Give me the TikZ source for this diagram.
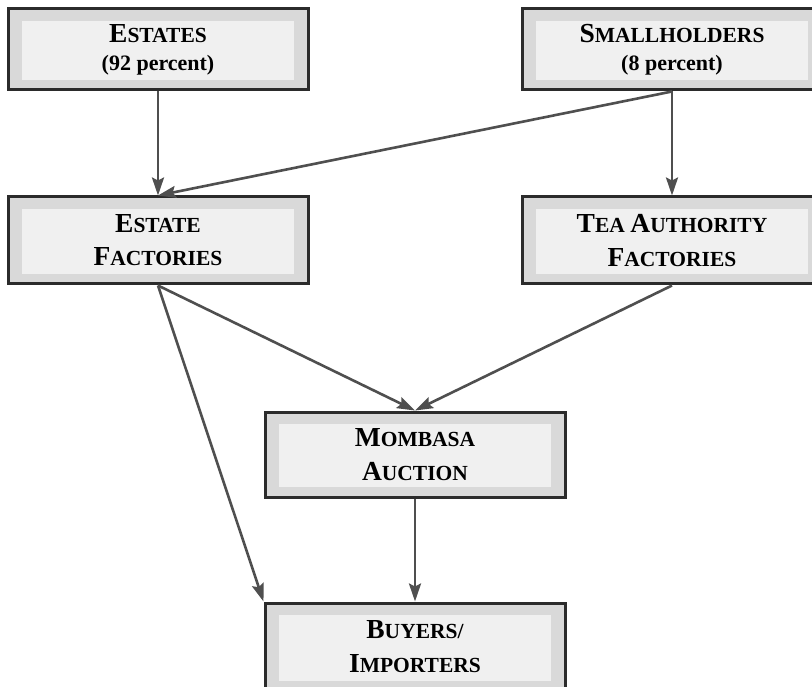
\documentclass[tikz,border=0pt]{standalone}
\usepackage{fontspec}
\setmainfont{Liberation Serif}
\usetikzlibrary{arrows.meta}
\definecolor{outerfill}{HTML}{D9D9D9}
\definecolor{innerfill}{HTML}{F0F0F0}
\definecolor{edgecol}{HTML}{2B2B2B}
\definecolor{arrowcol}{HTML}{4F4F4F}
\newcommand\SCw[2]{{\fontsize{27.5}{29}\selectfont #1}{\fontsize{21.5}{29}\selectfont #2}}
\begin{document}
\begin{tikzpicture}[x=1pt,y=-1pt,
  outerbox/.style={draw=edgecol,line width=3pt,fill=outerfill,
    minimum width=300pt,minimum height=#1,inner sep=0pt,align=center,
    font=\bfseries\fontsize{22}{29}\selectfont,
    path picture={\fill[innerfill]
      ([xshift=14pt,yshift=-12pt]path picture bounding box.north west) rectangle
      ([xshift=-14pt,yshift=10pt]path picture bounding box.south east);}},
  arr/.style={draw=arrowcol,line width=2.6pt,
    -{Stealth[length=18pt,width=12pt,inset=3pt]}}]
\clip (0,0) rectangle (812,687);
\fill[white] (0,0) rectangle (812,687);
\node[outerbox=81pt] (es) at (158,49.5) {\SCw{E}{STATES}\\[-1pt](92 percent)};
\node[outerbox=81pt] (sh) at (672,49.5) {\SCw{S}{MALLHOLDERS}\\[-1pt](8 percent)};
\node[outerbox=87pt] (ef) at (158,240.5) {\SCw{E}{STATE}\\[4pt]\SCw{F}{ACTORIES}};
\node[outerbox=87pt] (ta) at (672,240.5) {\SCw{T}{EA} \SCw{A}{UTHORITY}\\[5pt]\SCw{F}{ACTORIES}};
\node[outerbox=85pt] (mo) at (415,454.5) {\SCw{M}{OMBASA}\\[5pt]\SCw{A}{UCTION}};
\node[outerbox=88pt] (bu) at (415,647) {\SCw{B}{UYERS/}\\[5pt]\SCw{I}{MPORTERS}};
\draw[arr] (es.south) -- (ef.north);
\draw[arr] (sh.south) -- (ef.north);
\draw[arr] (sh.south) -- (ta.north);
\draw[arr] (ef.south) -- (mo.north);
\draw[arr] (ta.south) -- (mo.north);
\draw[arr] (ef.south) -- (bu.north west);
\draw[arr] (mo.south) -- (bu.north);
\end{tikzpicture}
\end{document}
